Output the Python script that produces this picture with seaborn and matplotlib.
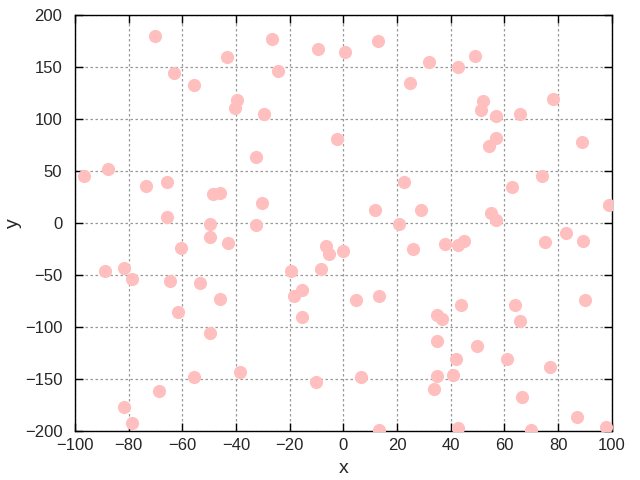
import seaborn as sns
import matplotlib.pyplot as plt
import pandas as pd

# point values
x_vals = [-70.3, -26.5, -9.4, 0.6, -43.3, -63.2, -24.3, -55.6, -39.5, -40.3,
          -29.5, -2.3, -32.5, -96.6, -87.6, -73.4, -65.7, -48.6, -46.1, -30.2,
          -65.7, -49.5, -32.4, 13.0, 32.0, 42.8, 49.0, 24.9, 52.0, 51.1,
          56.8, 65.8, 78.1, 56.8, 54.1, 88.9, 22.6, 62.9, 74.0, 11.8,
          29.0, 20.8, 55.0, 56.9, 99.0, 82.9, -49.5, -43.1, -60.3, -6.5,
          -5.3, -0.1, -88.7, -81.6, -78.6, -64.6, -53.4, -46.1, -61.6, -49.5,
          -19.5, -18.3, -15.3, -8.2, -15.3, -38.5, -55.7, -68.6, -81.6, -78.6,
          -10.2, 89.1, 75.2, 37.8, 42.6, 45.0, 26.0, 4.7, 13.1, 43.9,
          63.9, 65.7, 89.9, 34.7, 36.9, 34.7, 49.7, 41.9, 61.0, 76.9,
          6.6, 34.7, 40.9, 33.8, 66.7, 86.9, 13.1, 42.8, 69.8, 98.0]
y_vals = [179.8, 176.6, 167.0, 164.0, 159.3, 144.0, 145.9, 132.4, 118.0, 110.3,
          104.5, 80.8, 63.5, 45.2, 52.0, 35.3, 39.4, 27.6, 28.5, 18.9,
          5.5, -1.3, -1.9, 174.7, 154.5, 149.7, 160.3, 134.3, 117.3, 108.7,
          102.6, 104.5, 119.0, 81.4, 73.7, 77.6, 39.1, 34.9, 45.2, 12.8,
          12.8, -1.3, 9.6, 2.6, 17.0, -10.0, -13.5, -19.5, -24.3, -22.4,
          -30.0, -27.0, -46.0, -43.6, -54.2, -56.0, -58.0, -73.4, -85.6, -105.8,
          -46.0, -70.0, -64.4, -44.2, -90.4, -143.3, -148.4, -161.5, -177.2, -192.3,
          -153.0, -17.3, -18.3, -20.0, -21.0, -17.6, -25.0, -74.4, -70.0, -79.0,
          -79.0, -94.5, -74.4, -88.8, -92.0, -113.5, -118.6, -131.0, -131.0, -138.8,
          -148.4, -147.4, -146.4, -159.6, -167.3, -186.5, -199.0, -197.0, -199.0, -196.0]

df = pd.DataFrame({"x": x_vals, "y": y_vals})

sns.set_style("white")
plt.rcParams['font.family'] = ['Liberation Sans', 'DejaVu Sans']

fig = plt.figure(figsize=(6.4, 4.8), dpi=100)
ax = fig.add_axes([0.117, 0.102, 0.839, 0.867])

sns.scatterplot(x="x", y="y", data=df, ax=ax, color="#ffbfbf", s=90,
                linewidth=0, zorder=3)

ax.set_xlim(-100, 100)
ax.set_ylim(-200, 200)
ax.set_xticks(range(-100, 101, 20))
ax.set_yticks(range(-200, 201, 50))
ax.grid(True, linestyle=(0, (2, 2)), color="#999999", linewidth=0.9)
ax.set_axisbelow(True)
ax.tick_params(direction="in", top=True, right=True, bottom=True, left=True,
               length=6, width=1, labelsize=12, color="black")
ax.tick_params(axis="x", pad=5)
ax.tick_params(axis="y", pad=9)
for sp in ax.spines.values():
    sp.set_color("black")
    sp.set_linewidth(1)
ax.set_xlabel("x", fontsize=14, labelpad=5)
ax.set_ylabel("y", fontsize=14, labelpad=2)

plt.savefig("out.png", dpi=100)
